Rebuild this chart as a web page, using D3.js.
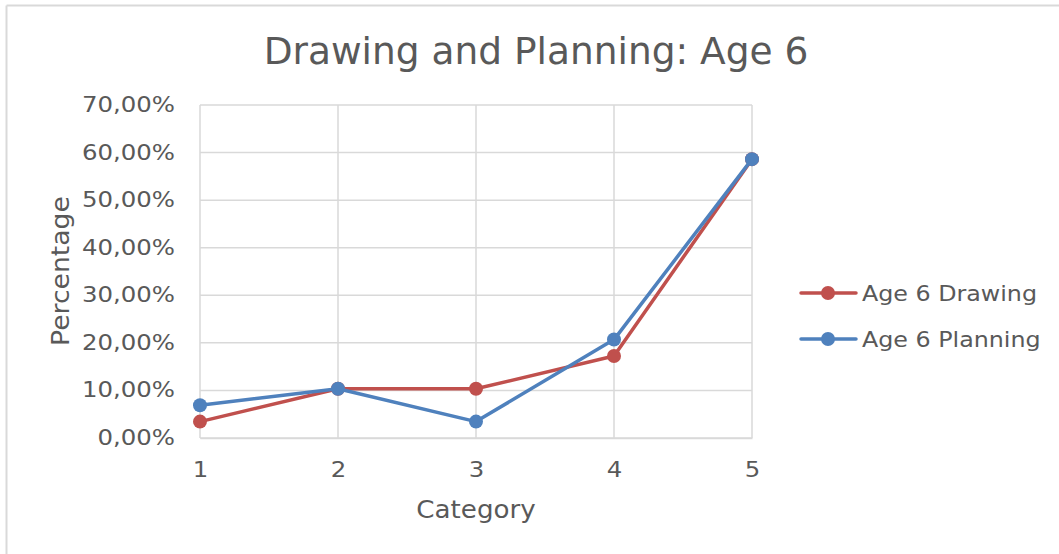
<!DOCTYPE html>
<html>
<head>
<meta charset="utf-8">
<script src="https://cdn.jsdelivr.net/npm/d3@7"></script>
<style>
  html, body { margin: 0; padding: 0; background: #fff; }
  svg text { font-family: "DejaVu Sans", Verdana, sans-serif; fill: #595959; }
</style>
</head>
<body>
<svg id="chart" width="1059" height="554"></svg>
<script>
const categories = [1, 2, 3, 4, 5];
const drawing = [3.45, 10.34, 10.34, 17.24, 58.62];
const planning = [6.90, 10.34, 3.45, 20.69, 58.62];
const yTicks = [0, 10, 20, 30, 40, 50, 60, 70];
const seriesNames = ["Age 6 Drawing", "Age 6 Planning"];
const seriesColors = ["#C0504D", "#4F81BD"];
const title = "Drawing and Planning: Age 6";

(function () {
const svg = d3.select("#chart");
const FONT = '"DejaVu Sans", Verdana, sans-serif';

// chart border (top and left)
svg.append("line").attr("x1", 6.5).attr("x2", 1059).attr("y1", 5.5).attr("y2", 5.5)
  .attr("stroke", "#d9d9d9").attr("stroke-width", 2);
svg.append("line").attr("x1", 6.5).attr("x2", 6.5).attr("y1", 5.5).attr("y2", 554)
  .attr("stroke", "#d9d9d9").attr("stroke-width", 2);

const pLeft = 200, pRight = 752, pTop = 105, pBottom = 438;
const x = d3.scaleLinear().domain([1, 5]).range([pLeft, pRight]);
const y = d3.scaleLinear().domain([0, 70]).range([pBottom, pTop]);

// gridlines
const grid = svg.append("g");
grid.selectAll(".h").data(yTicks).enter().append("line")
  .attr("x1", pLeft).attr("x2", pRight)
  .attr("y1", d => y(d)).attr("y2", d => y(d))
  .attr("stroke", "#d9d9d9").attr("stroke-width", 1.5);
grid.selectAll(".v").data(categories).enter().append("line")
  .attr("x1", d => x(d)).attr("x2", d => x(d))
  .attr("y1", pTop).attr("y2", pBottom)
  .attr("stroke", "#d9d9d9").attr("stroke-width", 1.5);

function stretchTicks(g, sx) {
  g.selectAll("text").each(function () {
    const t = d3.select(this);
    const ox = +t.attr("x") || 0;
    t.attr("x", ox / sx).attr("transform", `scale(${sx},1)`);
  });
}

// y axis
const yAxis = d3.axisLeft(y).tickValues(yTicks).tickSize(0).tickPadding(25)
  .tickFormat(d => d3.format(".2f")(d).replace(".", ",") + "%");
const gy = svg.append("g").attr("transform", `translate(${pLeft},0)`).call(yAxis);
gy.select(".domain").remove();
gy.selectAll("text").attr("font-size", 20.5).attr("fill", "#595959").style("font-family", FONT);
stretchTicks(gy, 1.19);

// x axis
const xAxis = d3.axisBottom(x).tickValues(categories).tickSize(0).tickPadding(24)
  .tickFormat(d3.format("d"));
const gx = svg.append("g").attr("transform", `translate(0,${pBottom})`).call(xAxis);
gx.select(".domain").attr("stroke", "#d9d9d9").attr("stroke-width", 1.5);
gx.selectAll("text").attr("font-size", 20.5).attr("fill", "#595959").style("font-family", FONT);
stretchTicks(gx, 1.19);

// title
svg.append("text").attr("x", 536).attr("y", 64).attr("text-anchor", "middle")
  .attr("font-size", 37.5).text(title);

// axis titles
svg.append("g").attr("transform", "translate(476,518) scale(1.09,1)")
  .append("text").attr("text-anchor", "middle").attr("font-size", 24).text("Category");
svg.append("text").attr("transform", "translate(69,271) rotate(-90) scale(1.11,1)")
  .attr("text-anchor", "middle").attr("font-size", 24).text("Percentage");

// series
const series = [drawing, planning];
const line = d3.line().x((d, i) => x(categories[i])).y(d => y(d));
series.forEach((vals, si) => {
  const g = svg.append("g");
  g.append("path").datum(vals).attr("d", line).attr("fill", "none")
    .attr("stroke", seriesColors[si]).attr("stroke-width", 3.5)
    .attr("stroke-linejoin", "round");
  g.selectAll("circle").data(vals).enter().append("circle")
    .attr("cx", (d, i) => x(categories[i])).attr("cy", d => y(d))
    .attr("r", 7).attr("fill", seriesColors[si]);
});

// legend
const legendY = [293, 339];
seriesNames.forEach((name, i) => {
  const g = svg.append("g").attr("transform", `translate(0,${legendY[i]})`);
  g.append("line").attr("x1", 801).attr("x2", 856).attr("y1", 0).attr("y2", 0)
    .attr("stroke", seriesColors[i]).attr("stroke-width", 3.5).attr("stroke-linecap", "round");
  g.append("circle").attr("cx", 828).attr("cy", 0).attr("r", 7).attr("fill", seriesColors[i]);
  g.append("g").attr("transform", "translate(862,7.5) scale(1.16,1)")
    .append("text").attr("font-size", 20.5).text(name);
});
})();
</script>
</body>
</html>
